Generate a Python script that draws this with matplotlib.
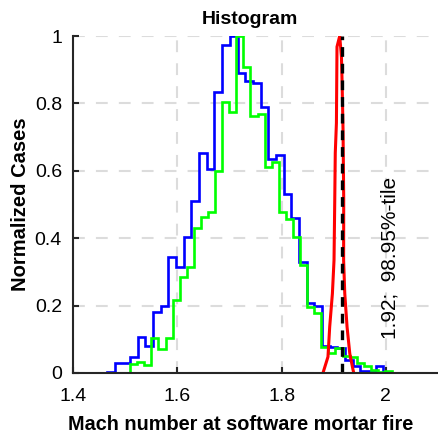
import numpy as np
import matplotlib
matplotlib.use("Agg")
import matplotlib.pyplot as plt

# --- Histogram data (normalized counts) ---
blue_start, blue_width = 1.4654, 0.014712
blue_vals = [0.003, 0.03, 0.03, 0.047, 0.107, 0.08, 0.18, 0.2, 0.345, 0.315,
             0.405, 0.51, 0.652, 0.604, 0.835, 0.973, 1.0, 0.891, 0.867, 0.862,
             0.79, 0.634, 0.647, 0.53, 0.459, 0.33, 0.207, 0.2, 0.081, 0.078,
             0.075, 0.04, 0.02, 0.005, 0.005, 0.022]

green_start, green_width = 1.5096, 0.013577
green_vals = [0.028, 0.033, 0.024, 0.105, 0.072, 0.105, 0.217, 0.286, 0.315, 0.43,
              0.464, 0.479, 0.6, 0.805, 0.775, 1.0, 0.908, 0.763, 0.77, 0.612,
              0.627, 0.479, 0.456, 0.405, 0.32, 0.197, 0.177, 0.078, 0.058, 0.075,
              0.05, 0.048, 0.03, 0.02, 0.01, 0.004, 0.006]

# red distribution (narrow, near 1.91)
red_x = [1.8794, 1.8890, 1.8923, 1.8975, 1.9006, 1.9020, 1.9030, 1.9052, 1.9063,
         1.9115, 1.9148, 1.9160, 1.9179, 1.9192, 1.9190, 1.9212, 1.9256, 1.9308,
         1.9371, 1.9385]
red_y = [0.0, 0.048, 0.137, 0.236, 0.335, 0.513, 0.653, 0.742, 0.968,
         1.0, 0.939, 0.869, 0.721, 0.513, 0.335, 0.236, 0.137, 0.058,
         0.009, 0.0]

pct_value = 1.9167
pct_label = "1.92;  98.95%-tile"

blue_edges = blue_start + blue_width * np.arange(len(blue_vals) + 1)
green_edges = green_start + green_width * np.arange(len(green_vals) + 1)

plt.rcParams["font.family"] = ["Liberation Sans", "DejaVu Sans"]
plt.rcParams["lines.scale_dashes"] = False

fig = plt.figure(figsize=(4.39, 4.36), dpi=100)
ax = fig.add_axes([0.1663, 0.1445, 0.8314, 0.7729])

ax.stairs(blue_vals, blue_edges, color=(0, 0, 1), linewidth=1.9, baseline=0)
ax.stairs(green_vals, green_edges, color=(0, 1, 0), linewidth=1.9, baseline=0)
ax.plot(red_x, red_y, color=(1, 0, 0), linewidth=2.2)

ax.plot([pct_value, pct_value], [0, 1], color="black", linewidth=2.4,
        linestyle=(0, (7, 5)))
ax.text(2.008, 0.1, pct_label, rotation=90, ha="center", va="bottom", fontsize=15)

ax.set_xlim(1.4, 2.1)
ax.set_ylim(0, 1)
ax.set_xticks([1.4, 1.6, 1.8, 2.0])
ax.set_xticklabels(["1.4", "1.6", "1.8", "2"])
ax.set_yticks([0, 0.2, 0.4, 0.6, 0.8, 1])
ax.set_yticklabels(["0", "0.2", "0.4", "0.6", "0.8", "1"])

ax.grid(True, color="#dcdcdc", linewidth=1.5, linestyle=(0, (8.5, 8)))
ax.set_axisbelow(True)

for side in ["top", "right"]:
    ax.spines[side].set_visible(False)
for side in ["left", "bottom"]:
    ax.spines[side].set_color("#262626")
    ax.spines[side].set_linewidth(1.5)
ax.tick_params(direction="in", length=4, width=1.5, colors="#262626",
               labelsize=14, labelcolor="black")
ax.tick_params(axis="x", pad=11)
ax.tick_params(axis="y", pad=8)

ax.set_title("Histogram", fontsize=14, fontweight="bold", pad=9, x=0.485)
ax.set_xlabel("Mach number at software mortar fire", fontsize=14.3,
              fontweight="bold")
ax.set_ylabel("Normalized Cases", fontsize=14.5, fontweight="bold")
ax.xaxis.set_label_coords(0.46, -0.125)
ax.yaxis.set_label_coords(-0.118, 0.5)

fig.savefig("out.png", dpi=100)
